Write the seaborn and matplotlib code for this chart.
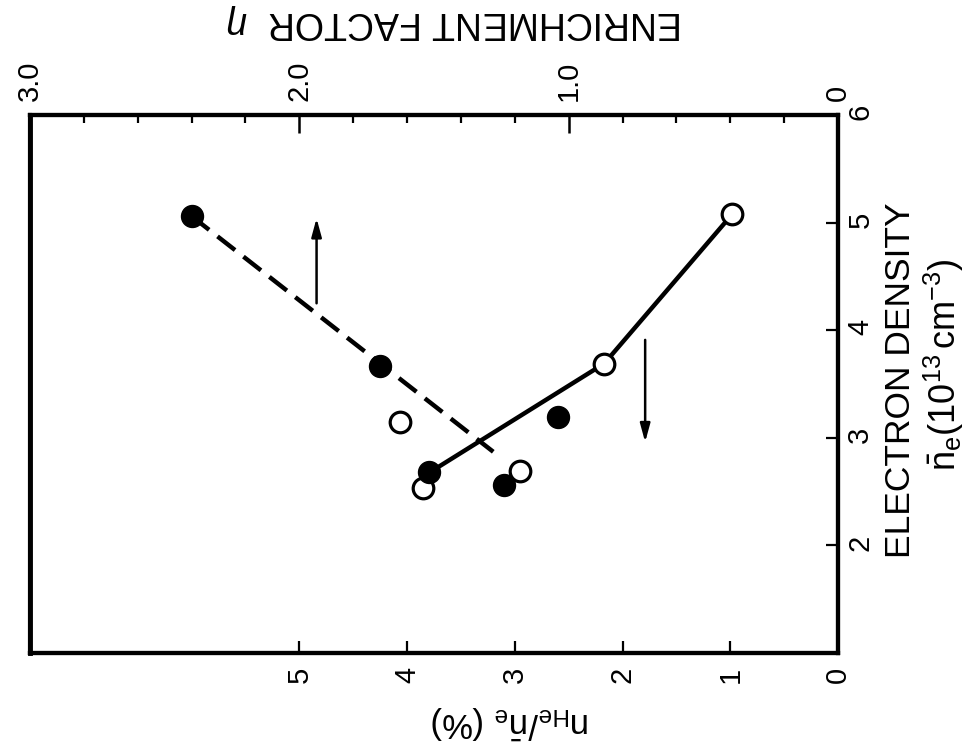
import matplotlib
matplotlib.use("Agg")
import matplotlib.pyplot as plt
from matplotlib.ticker import MultipleLocator
import seaborn as sns

# ------------------ Data ------------------
# open circles: helium fraction n_He/n_e (%) vs electron density
ratio_open = [0.98, 2.17, 4.07, 2.95, 3.85]
ne_open = [5.08, 3.69, 3.15, 2.69, 2.53]

# filled circles: enrichment factor eta vs electron density
eta_filled = [2.40, 1.70, 1.52, 1.24, 1.04]
ne_filled = [5.06, 3.67, 2.68, 2.56, 3.19]

# hand-drawn trend lines
ratio_fit = [3.74, 2.17, 0.98]
ne_ratio_fit = [2.71, 3.69, 5.08]
eta_fit = [2.40, 1.28]
ne_eta_fit = [5.06, 2.87]

# arrows pointing to the relevant axis
arrow_up_x, arrow_up_y = 4.84, [4.25, 5.04]
arrow_down_x, arrow_down_y = 1.79, [3.91, 2.96]

ratio_ticks = [0, 1, 2, 3, 4, 5]
eta_ticks = [0, 1, 2, 3]
eta_ticklabels = ["0", "1.0", "2.0", "3.0"]
ne_ticks = [2, 3, 4, 5, 6]

# ------------------ Style ------------------
sns.set_style("ticks")
plt.rcParams["font.family"] = ["Liberation Sans", "DejaVu Sans"]
plt.rcParams["mathtext.fontset"] = "custom"
plt.rcParams["mathtext.rm"] = "Liberation Sans"
plt.rcParams["mathtext.it"] = "Liberation Sans:italic"
for key in ["text.color", "axes.labelcolor", "xtick.color", "ytick.color", "axes.edgecolor"]:
    plt.rcParams[key] = "black"

W, H = 969, 756
fig = plt.figure(figsize=(W / 100, H / 100), dpi=100)
ax = fig.add_axes([30 / W, 1 - 653 / H, (838 - 30) / W, (653 - 115) / H])
ax_top = ax.twiny()

ax.set_xlim(7.5, 0)
ax.set_ylim(1, 6)
ax_top.set_xlim(3.0, 0)

# ------------------ Lines ------------------
sns.lineplot(x=ratio_fit, y=ne_ratio_fit, sort=False, estimator=None,
             color="black", lw=3.2, ax=ax, zorder=2)
sns.lineplot(x=eta_fit, y=ne_eta_fit, sort=False, estimator=None,
             color="black", lw=3.2, ax=ax_top, zorder=2)
ax_top.lines[-1].set_dashes([5, 2.4])

# ------------------ Points ------------------
sns.scatterplot(x=ratio_open, y=ne_open, ax=ax, s=220, color="white",
                edgecolor="black", linewidth=2.3, zorder=3)
sns.scatterplot(x=eta_filled, y=ne_filled, ax=ax_top, s=250, color="black",
                edgecolor="black", linewidth=1, zorder=4)

# ------------------ Arrows ------------------
arrow_style = dict(arrowstyle="-|>,head_length=1.1,head_width=0.3",
                   color="black", lw=1.8, shrinkA=0, shrinkB=0)
ax.annotate("", xy=(arrow_up_x, arrow_up_y[1]), xytext=(arrow_up_x, arrow_up_y[0]),
            arrowprops=arrow_style)
ax.annotate("", xy=(arrow_down_x, arrow_down_y[1]), xytext=(arrow_down_x, arrow_down_y[0]),
            arrowprops=arrow_style)

# ------------------ Axes ------------------
for a in (ax, ax_top):
    for sp in a.spines.values():
        sp.set_linewidth(3)
        sp.set_visible(True)
ax.spines["left"].set_linewidth(3.5)

ax.yaxis.tick_right()
ax.set_yticks(ne_ticks)
ax.set_xticks(ratio_ticks)
ax.tick_params(axis="both", which="major", direction="in", length=9, width=1.6,
               labelsize=21, labelrotation=90)
ax.tick_params(axis="x", pad=10)
ax.tick_params(axis="y", pad=6, left=False, right=True)

ax_top.set_xticks(eta_ticks)
ax_top.set_xticklabels(eta_ticklabels)
ax_top.xaxis.set_minor_locator(MultipleLocator(0.2))
ax_top.tick_params(axis="x", which="major", direction="in", length=13, width=1.8,
                   labelsize=21, labelrotation=90, pad=10)
ax_top.tick_params(axis="x", which="minor", direction="in", length=6, width=1.6)

ax.set_xlabel("")
ax.set_ylabel("")

# ------------------ Axis titles (rotated like the scan) ------------------
fig.text(455 / W, 1 - 22 / H, r"ENRICHMENT FACTOR  $\eta$", rotation=180,
         ha="center", va="center", fontsize=27)
fig.text(510 / W, 1 - 722 / H, r"$\mathrm{n_{He}/\bar{n}_e}$ (%)", rotation=180,
         ha="center", va="center", fontsize=25)
fig.text(900 / W, 1 - 380 / H, "ELECTRON DENSITY", rotation=90,
         ha="center", va="center", fontsize=25.5)
fig.text(944 / W, 1 - 365 / H, r"$\mathrm{\bar{n}_e(10^{13}\,cm^{-3})}$", rotation=90,
         ha="center", va="center", fontsize=26)

plt.savefig("out.png", dpi=100)
plt.close()
